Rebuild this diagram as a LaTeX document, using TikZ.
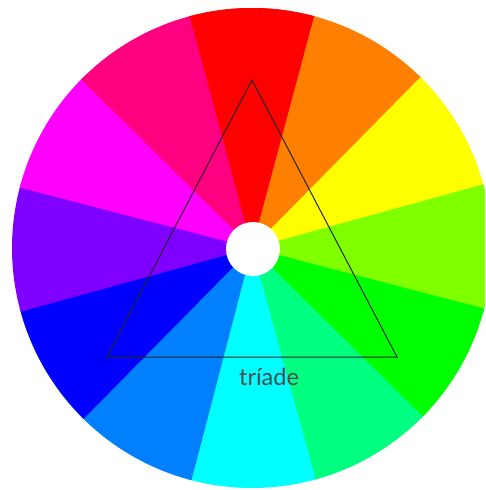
\documentclass[tikz,border=0pt]{standalone}
\usepackage{fontspec}
\newfontfamily\handfont{Lato}
\definecolor{cRed}{HTML}{FF0000}
\definecolor{cOrange}{HTML}{FF8000}
\definecolor{cYellow}{HTML}{FFFF00}
\definecolor{cLime}{HTML}{80FF00}
\definecolor{cGreen}{HTML}{00FF00}
\definecolor{cSpring}{HTML}{00FF80}
\definecolor{cCyan}{HTML}{00FFFF}
\definecolor{cAzure}{HTML}{0080FF}
\definecolor{cBlue}{HTML}{0000FF}
\definecolor{cViolet}{HTML}{8000FF}
\definecolor{cMagenta}{HTML}{FF00FF}
\definecolor{cRose}{HTML}{FF0080}
\begin{document}
\begin{tikzpicture}[x=1pt,y=1pt,
  triline/.style={draw=black!85, line width=1pt, line join=miter},
  label/.style={font=\handfont\fontsize{23.5}{26}\selectfont, text=black!70, inner sep=0pt}]
\useasboundingbox (0,0) rectangle (485,-490);
\clip (0,0) rectangle (485,-490);
\fill[white] (0,0) rectangle (485,-490);
\coordinate (C) at (252,-248);
\foreach \a/\c in {90/cRed,60/cOrange,30/cYellow,0/cLime,-30/cGreen,-60/cSpring,-90/cCyan,-120/cAzure,-150/cBlue,180/cViolet,150/cMagenta,120/cRose}{
  \fill[\c] (C) -- ++(\a-15.4:240) arc[start angle=\a-15.4, end angle=\a+15.4, radius=240] -- cycle;
}
\fill[cRed] (C) -- ++(75:240) arc[start angle=75, end angle=105, radius=240] -- cycle;
\node[circle, fill=white, minimum size=54pt, inner sep=0pt] (hole) at (253,-249) {};
\coordinate (A) at (252,-80);
\coordinate (B) at (107,-357);
\coordinate (D) at (397,-357);
\draw[triline] (A) -- (B) -- (D) -- cycle;
\node[label] (txt) at (269,-377) {tríade};
\end{tikzpicture}
\end{document}
